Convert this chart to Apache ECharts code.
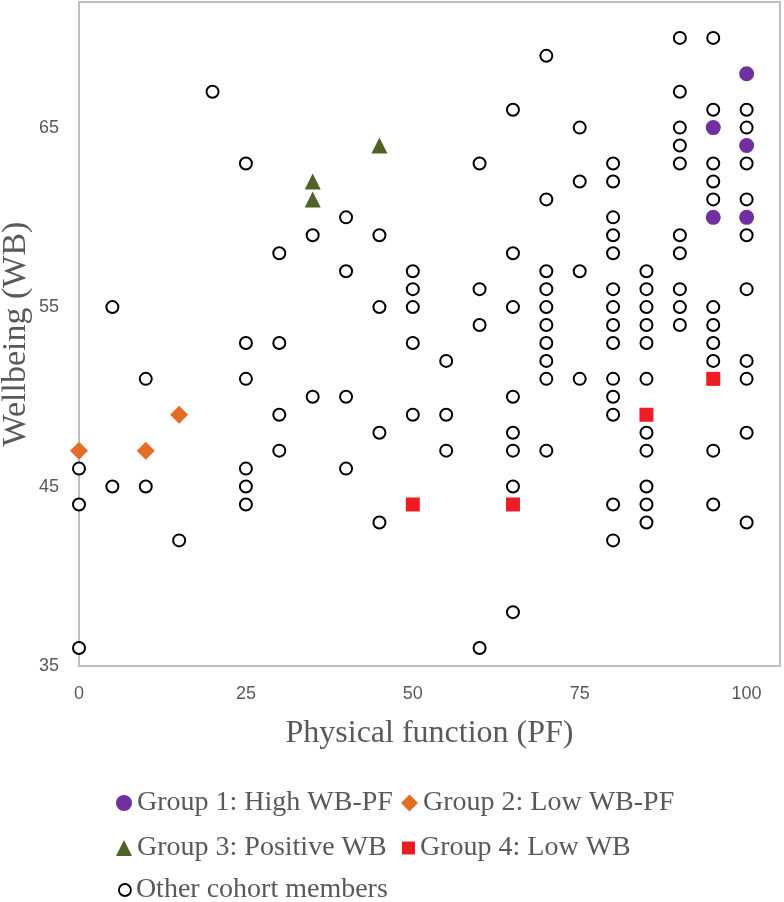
<!DOCTYPE html>
<html>
<head>
<meta charset="utf-8">
<script src="https://cdn.jsdelivr.net/npm/echarts@6/dist/echarts.min.js"></script>
<style>
html,body{margin:0;padding:0;background:#fff;}
#chart{width:784px;height:902px;}
</style>
</head>
<body>
<div id="chart"></div>
<script>
// Series names
const seriesNames = ['Group 1: High WB-PF','Group 2: Low WB-PF','Group 3: Positive WB','Group 4: Low WB','Other cohort members'];
// [PF, WB] pairs
const group1 = [[95,65],[95,60],[100,68],[100,64],[100,60]];
const group2 = [[0,47],[10,47],[15,49]];
const group3 = [[35,62],[35,61],[45,64]];
const group4 = [[50,44],[65,44],[85,49],[95,51]];
const others = [
  [0,46],[0,44],[0,36],
  [5,55],[5,45],
  [10,51],[10,45],
  [15,42],
  [20,67],
  [25,63],[25,53],[25,51],[25,46],[25,45],[25,44],
  [30,58],[30,53],[30,49],[30,47],
  [35,59],[35,50],
  [40,60],[40,57],[40,50],[40,46],
  [45,59],[45,55],[45,48],[45,43],
  [50,57],[50,56],[50,55],[50,53],[50,49],
  [55,52],[55,49],[55,47],
  [60,63],[60,56],[60,54],[60,36],
  [65,66],[65,58],[65,55],[65,50],[65,48],[65,47],[65,45],[65,38],
  [70,69],[70,61],[70,57],[70,56],[70,55],[70,54],[70,53],[70,52],[70,51],[70,47],
  [75,65],[75,62],[75,57],[75,51],
  [80,63],[80,62],[80,60],[80,59],[80,58],[80,56],[80,55],[80,54],[80,53],[80,51],[80,50],[80,49],[80,44],[80,42],
  [85,57],[85,56],[85,55],[85,54],[85,53],[85,51],[85,48],[85,47],[85,45],[85,44],[85,43],
  [90,70],[90,67],[90,65],[90,64],[90,63],[90,59],[90,58],[90,56],[90,55],[90,54],
  [95,70],[95,66],[95,63],[95,62],[95,61],[95,55],[95,54],[95,53],[95,52],[95,47],[95,44],
  [100,66],[100,65],[100,63],[100,61],[100,59],[100,56],[100,52],[100,51],[100,48],[100,43]
];
const xTitle = 'Physical function (PF)';
const yTitle = 'Wellbeing (WB)';

const gray = '#595959';
const serif = '"Liberation Serif", "Times New Roman", serif';
const sans = '"Liberation Sans", Arial, sans-serif';
const legendFont = {fontFamily: serif, fontSize: 28, color: gray};

function legendAt(name, left, centerY, size, extra) {
  const d = Object.assign({name: name}, extra || {});
  return {
    data: [d], left: left, top: centerY - 14, padding: 0,
    itemWidth: size, itemHeight: size, itemGap: 0,
    textStyle: legendFont, selectedMode: false
  };
}

const chart = echarts.init(document.getElementById('chart'), null, {renderer: 'canvas'});
chart.setOption({
  animation: false,
  backgroundColor: '#fff',
  grid: {left: 79, right: 4, top: 2, bottom: 236, show: true, borderColor: '#BFBFBF', borderWidth: 2,
         containLabel: false, outerBoundsMode: 'none'},
  xAxis: {
    type: 'value', min: 0, max: 105, interval: 25,
    name: xTitle, nameLocation: 'middle', nameGap: 52, nameMoveOverlap: false,
    nameTextStyle: {fontFamily: serif, fontSize: 32, color: gray},
    axisLine: {show: true, lineStyle: {color: '#BFBFBF', width: 2}},
    axisTick: {show: false}, splitLine: {show: false},
    axisLabel: {showMaxLabel: false, margin: 19, fontFamily: sans, fontSize: 18, color: gray}
  },
  yAxis: {
    type: 'value', min: 35, max: 72, interval: 10,
    name: yTitle, nameLocation: 'middle', nameGap: 46, nameRotate: 90, nameMoveOverlap: false,
    nameTextStyle: {fontFamily: serif, fontSize: 34, color: gray},
    axisLine: {show: true, lineStyle: {color: '#BFBFBF', width: 2}},
    axisTick: {show: false}, splitLine: {show: false},
    axisLabel: {showMaxLabel: false, margin: 20, fontFamily: sans, fontSize: 18, color: gray}
  },
  legend: [
    legendAt(seriesNames[0], 116, 803, 16),
    legendAt(seriesNames[1], 401, 803, 17),
    legendAt(seriesNames[2], 116, 848, 16),
    legendAt(seriesNames[3], 402, 848, 13),
    legendAt(seriesNames[4], 118, 890, 12, {itemStyle: {color: '#fff', borderColor: '#000', borderWidth: 1.8}})
  ],
  series: [
    {name: seriesNames[4], type: 'scatter', data: others, symbol: 'circle', symbolSize: 12,
     itemStyle: {color: '#fff', borderColor: '#000', borderWidth: 2, opacity: 1}, z: 2},
    {name: seriesNames[0], type: 'scatter', data: group1, symbol: 'circle', symbolSize: 15,
     itemStyle: {color: '#7030A0', opacity: 1}, z: 3},
    {name: seriesNames[1], type: 'scatter', data: group2, symbol: 'diamond', symbolSize: 18,
     itemStyle: {color: '#E46C26', opacity: 1}, z: 3},
    {name: seriesNames[2], type: 'scatter', data: group3, symbol: 'triangle', symbolSize: 16,
     itemStyle: {color: '#4F6228', opacity: 1}, z: 3},
    {name: seriesNames[3], type: 'scatter', data: group4, symbol: 'rect', symbolSize: 14,
     itemStyle: {color: '#EE1C25', opacity: 1}, z: 3}
  ]
});
</script>
</body>
</html>
